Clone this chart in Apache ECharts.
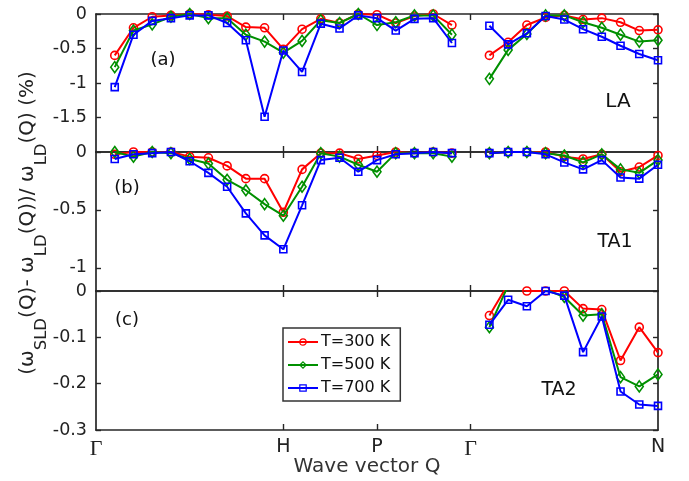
<!DOCTYPE html>
<html>
<head>
<meta charset="utf-8">
<script src="https://cdn.jsdelivr.net/npm/echarts@6/dist/echarts.min.js"></script>
<style>
html,body{margin:0;padding:0;background:#fff;}
#chart{width:689px;height:481px;}
</style>
</head>
<body>
<div id="chart"></div>
<script>
// Wave-vector point index along Γ-H-P-Γ-N (20 = Γ, gap)
const qIndex = [1,2,3,4,5,6,7,8,9,10,11,12,13,14,15,16,17,18,19,20,21,22,23,24,25,26,27,28,29,30];
const qIndexTA2 = [21,22,23,24,25,26,27,28,29,30];

// Panel (a) LA
const laT300 = [-0.60,-0.20,-0.04,-0.02,0,-0.01,-0.03,-0.19,-0.20,-0.51,-0.22,-0.07,-0.13,0,-0.01,-0.13,-0.03,0,-0.16,null,-0.60,-0.41,-0.16,-0.05,-0.02,-0.08,-0.06,-0.12,-0.24,-0.23];
const laT500 = [-0.77,-0.24,-0.15,-0.04,0,-0.06,-0.06,-0.30,-0.40,-0.56,-0.39,-0.09,-0.13,0,-0.16,-0.12,-0.02,-0.02,-0.30,null,-0.94,-0.52,-0.29,-0.02,-0.02,-0.12,-0.20,-0.30,-0.40,-0.38];
const laT700 = [-1.06,-0.30,-0.10,-0.06,-0.02,-0.02,-0.13,-0.38,-1.49,-0.53,-0.84,-0.14,-0.21,-0.02,-0.06,-0.24,-0.07,-0.06,-0.42,null,-0.17,-0.44,-0.28,-0.03,-0.08,-0.22,-0.33,-0.46,-0.58,-0.67];

// Panel (b) TA1
const ta1T300 = [-0.02,0,0,0,-0.04,-0.05,-0.12,-0.23,-0.23,-0.52,-0.15,-0.01,-0.01,-0.06,-0.03,0,-0.01,0,-0.01,null,-0.01,0,0,0,-0.04,-0.06,-0.02,-0.17,-0.13,-0.03];
const ta1T500 = [0,-0.04,0,-0.01,-0.06,-0.10,-0.24,-0.33,-0.45,-0.55,-0.30,-0.01,-0.04,-0.11,-0.17,-0.01,-0.01,-0.01,-0.04,null,-0.01,0,0,-0.01,-0.03,-0.09,-0.02,-0.15,-0.18,-0.07];
const ta1T700 = [-0.06,-0.02,-0.01,0,-0.08,-0.18,-0.30,-0.53,-0.72,-0.84,-0.46,-0.07,-0.05,-0.17,-0.07,-0.02,-0.01,0,-0.01,null,-0.01,0,0,-0.02,-0.09,-0.15,-0.07,-0.22,-0.23,-0.11];

// Panel (c) TA2 (Γ-N only)
const ta2T300 = [-0.053,0.015,0,0,0,-0.038,-0.040,-0.150,-0.078,-0.133];
const ta2T500 = [-0.078,0.012,0.008,0.003,-0.013,-0.053,-0.050,-0.186,-0.206,-0.180];
const ta2T700 = [-0.073,-0.019,-0.033,0,-0.010,-0.132,-0.055,-0.217,-0.245,-0.248];

const seriesNames = ['T=300 K','T=500 K','T=700 K'];
const xTickPos = [0,10,15,20,30];
const xTickLabels = ['Γ','H','P','Γ','N'];
const yTicksA = [0,-0.5,-1,-1.5];
const yTicksB = [0,-0.5,-1];
const yTicksC = [0,-0.1,-0.2,-0.3];
const yMinA = -2, yMinB = -1.2, yMinC = -0.3;
const panelLabels = ['(a)','(b)','(c)'];
const branchLabels = ['LA','TA1','TA2'];

const FONT = 'DejaVu Sans';
const AX = '#262626';
const colors = ['#ff0000','#009000','#0000ff'];
const symbols = ['circle','diamond','rect'];
const symSizes = [8,[8,11],7];

const grids = [
  {left:96, width:562, top:14, height:138},
  {left:96, width:562, top:152, height:139},
  {left:96, width:562, top:291, height:139}
];

function pairs(xs, ys){ return xs.map((x,i)=>[x, ys[i]]); }

const xAxes = [], yAxes = [];
const yInfo = [[yMinA,yTicksA],[yMinB,yTicksB],[yMinC,yTicksC]];
for (let g=0; g<3; g++){
  ['bottom','top'].forEach(pos=>{
    const showLab = (g===2 && pos==='bottom');
    xAxes.push({
      gridIndex:g, type:'value', min:0, max:30, position:pos,
      axisLine:{show:true, onZero:false, lineStyle:{color:AX, width:1.7}},
      axisTick:{show:true, inside:true, length:6, customValues:[10,15,20], lineStyle:{color:AX,width:1.4}},
      axisLabel: showLab ? {
        show:true, customValues:xTickPos, margin:8,
        formatter:(v)=>{ const i = xTickPos.indexOf(v); const t = i>=0 ? xTickLabels[i] : '';
          return t==='Γ' ? '{g|Γ}' : '{n|'+t+'}'; },
        rich:{
          g:{fontFamily:'Liberation Serif', fontSize:22, color:'#222'},
          n:{fontFamily:FONT, fontSize:19, color:'#222'}
        }
      } : {show:false},
      splitLine:{show:false}
    });
  });
  ['left','right'].forEach(pos=>{
    const [mn, ticks] = yInfo[g];
    yAxes.push({
      gridIndex:g, type:'value', min:mn, max:0, position:pos,
      axisLine:{show:true, onZero:false, lineStyle:{color:AX, width:1.7}},
      axisTick:{show:true, inside:true, length:5, customValues:ticks, lineStyle:{color:AX,width:1.4}},
      axisLabel: pos==='left' ? {show:true, customValues:ticks, margin:9, fontFamily:FONT, fontSize:17.5, color:'#222',
        formatter:(v)=>String(v)} : {show:false},
      splitLine:{show:false}
    });
  });
}

const panelData = [
  [pairs(qIndex, laT300), pairs(qIndex, laT500), pairs(qIndex, laT700)],
  [pairs(qIndex, ta1T300), pairs(qIndex, ta1T500), pairs(qIndex, ta1T700)],
  [pairs(qIndexTA2, ta2T300), pairs(qIndexTA2, ta2T500), pairs(qIndexTA2, ta2T700)]
];

const series = [];
for (let g=0; g<3; g++){
  for (let s=0; s<3; s++){
    series.push({
      name: seriesNames[s], type:'line',
      xAxisIndex: g*2, yAxisIndex: g*2,
      data: panelData[g][s],
      symbol: symbols[s], symbolSize: symSizes[s],
      showSymbol:true, clip:true, connectNulls:false,
      lineStyle:{color:colors[s], width:2},
      itemStyle:{color:'rgba(255,255,255,0)', borderColor:colors[s], borderWidth:1.6},
      emphasis:{disabled:true},
      z: 2+s
    });
  }
}

function txt(x, y, text, size, fill){
  return {
    type:'text', x:x, y:y, silent:true,
    style:{text:text, fontFamily:FONT, fontSize:size, fill:fill||'#111', align:'center', verticalAlign:'middle'}
  };
}

const graphic = [
  txt(163, 60, panelLabels[0], 18),
  txt(127, 188, panelLabels[1], 18),
  txt(127, 320, panelLabels[2], 18),
  txt(618, 102, branchLabels[0], 20),
  txt(615, 242, branchLabels[1], 19),
  txt(559, 390, branchLabels[2], 19),
  txt(367, 467, 'Wave vector Q', 20, '#333'),
  {
    type:'text', x:28, y:223, rotation:Math.PI/2, silent:true,
    style:{
      text:'{n|(ω}{s|SLD}{n|(Q)- ω}{s|LD}{n|(Q))/ ω}{s|LD}{n|(Q) (%)}',
      align:'center', verticalAlign:'middle', fill:'#222',
      rich:{
        n:{fontFamily:FONT, fontSize:20, lineHeight:20, verticalAlign:'top', fill:'#222'},
        s:{fontFamily:FONT, fontSize:16.5, lineHeight:16, padding:[15,0,0,0], verticalAlign:'top', fill:'#222'}
      }
    }
  }
];

const chart = echarts.init(document.getElementById('chart'), null, {renderer:'canvas'});
chart.setOption({
  animation:false,
  backgroundColor:'#fff',
  grid: grids,
  xAxis: xAxes,
  yAxis: yAxes,
  legend:{
    data: seriesNames, orient:'vertical', left:283, top:328,
    backgroundColor:'#fff', borderColor:'#333', borderWidth:1.5, borderRadius:0,
    padding:[6,10,5,4], itemWidth:30, itemHeight:8, itemGap:7,
    textStyle:{fontFamily:FONT, fontSize:16, color:'#111', lineHeight:16, padding:[0,0,0,-2]},
    selectedMode:false,
    itemStyle:{borderWidth:1.2}
  },
  series: series,
  graphic: graphic
});
</script>
</body>
</html>
